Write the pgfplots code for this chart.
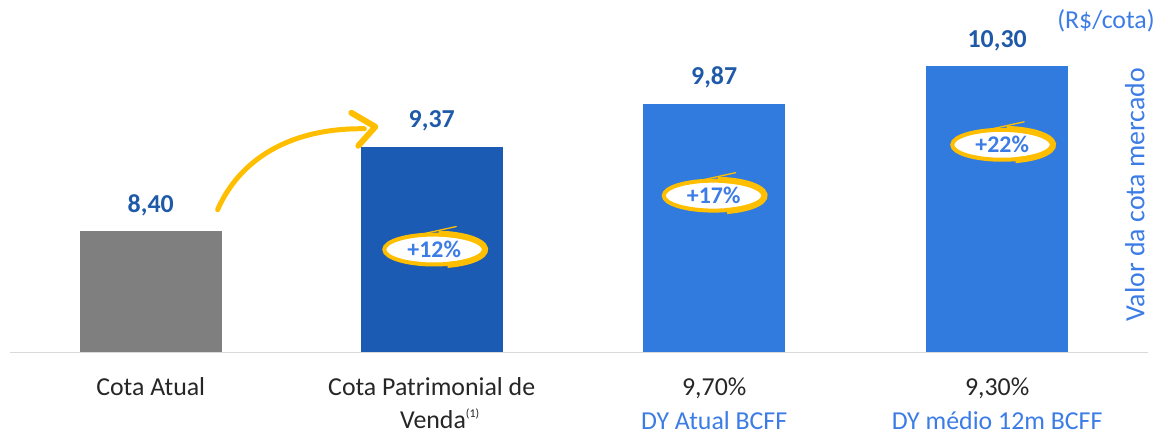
\documentclass[border=0pt]{standalone}
\usepackage{pgfplots}
\pgfplotsset{compat=1.18}
\usepackage{fontspec}
\setmainfont{Carlito}
\usetikzlibrary{arrows.meta}
\definecolor{barGray}{HTML}{7F7F7F}
\definecolor{barDark}{HTML}{1B5BB4}
\definecolor{barLight}{HTML}{317ADE}
\definecolor{valBlue}{HTML}{1F5AA8}
\definecolor{lblBlue}{HTML}{3C7CE6}
\definecolor{arrowYellow}{HTML}{FFBF00}
\definecolor{axisGray}{HTML}{D9D9D9}
\definecolor{lblDark}{HTML}{262626}
\newcommand{\pctellipse}[3]{%
  \draw[arrowYellow, line width=4bp, fill=white] (axis cs:#1,#2) ellipse [x radius=50bp, y radius=15bp];
  \draw[arrowYellow, line width=6bp] ([shift={(-75:51bp and 16bp)}]axis cs:#1,#2) arc[start angle=-75, end angle=85, x radius=51bp, y radius=16bp];
  \node[font=\fontsize{24}{28}\selectfont\bfseries, text=lblBlue] at (axis cs:#1,#2) {#3};
  \draw[arrowYellow, line width=1.3bp, line cap=round] ([shift={(-10bp,16bp)}]axis cs:#1,#2) -- ([shift={(22bp,23bp)}]axis cs:#1,#2);
}
\begin{document}
\begin{tikzpicture}
\begin{axis}[
  scale only axis,
  width=1140bp, height=347.2bp,
  xmin=10, xmax=1150, ymin=7, ymax=11,
  clip mode=individual,
  axis y line=none,
  axis x line=bottom,
  x axis line style={-, draw=axisGray, line width=1.5bp},
  xtick={151,432.5,715.5,999},
  xticklabels={
    Cota Atual,
    {Cota Patrimonial de\\[2bp]\hspace*{16bp}Venda\raisebox{11bp}{\fontsize{12}{12}\selectfont(1)}},
    {9,70\%\\[4bp]\textcolor{lblBlue}{DY Atual BCFF}},
    {9,30\%\\[4bp]\textcolor{lblBlue}{DY médio 12m BCFF}}},
  major tick length=0pt,
  xticklabel style={font=\fontsize{26}{31}\selectfont, text=lblDark, align=center, anchor=north, inner sep=0pt, yshift=-25bp},
  ybar, bar width=142,
  nodes near coords,
  every node near coord/.append style={font=\fontsize{26}{31}\selectfont\bfseries, text=valBlue, anchor=center, yshift=26bp},
  /pgf/number format/.cd, use comma, fixed, fixed zerofill, precision=2, assume math mode=true,
]
\addplot[fill=barGray, draw=none, bar shift=0pt] coordinates {(151,8.40)};
\addplot[fill=barDark, draw=none, bar shift=0pt] coordinates {(432.5,9.37)};
\addplot[fill=barLight, draw=none, bar shift=0pt] coordinates {(715.5,9.87)};
\addplot[fill=barLight, draw=none, bar shift=0pt] coordinates {(999,10.30)};

% yellow arrow
\draw[arrowYellow, line width=5bp, line cap=round, line join=round]
  (axis cs:218,8.647) .. controls (axis cs:240,9.224) and (axis cs:290,9.592) .. (axis cs:365,9.581);
\draw[arrowYellow, line width=6bp, line cap=round, line join=round]
  (axis cs:352,9.765) -- (axis cs:376,9.604) -- (axis cs:359,9.385);

% ellipses with percentages
\pctellipse{435}{8.187}{+12\%}
\pctellipse{715}{8.809}{+17\%}
\pctellipse{1004}{9.396}{+22\%}

% right side labels
\node[font=\fontsize{26}{31}\selectfont, text=lblBlue] at (axis cs:1108,10.824) {(R\$/cota)};
\node[font=\fontsize{28}{33}\selectfont, text=lblBlue, rotate=90] at (axis cs:1137,8.820) {Valor da cota mercado};

% bounding box
\path (axis cs:0,6.0438) rectangle (axis cs:1158,11.067);
\end{axis}
\end{tikzpicture}
\end{document}
